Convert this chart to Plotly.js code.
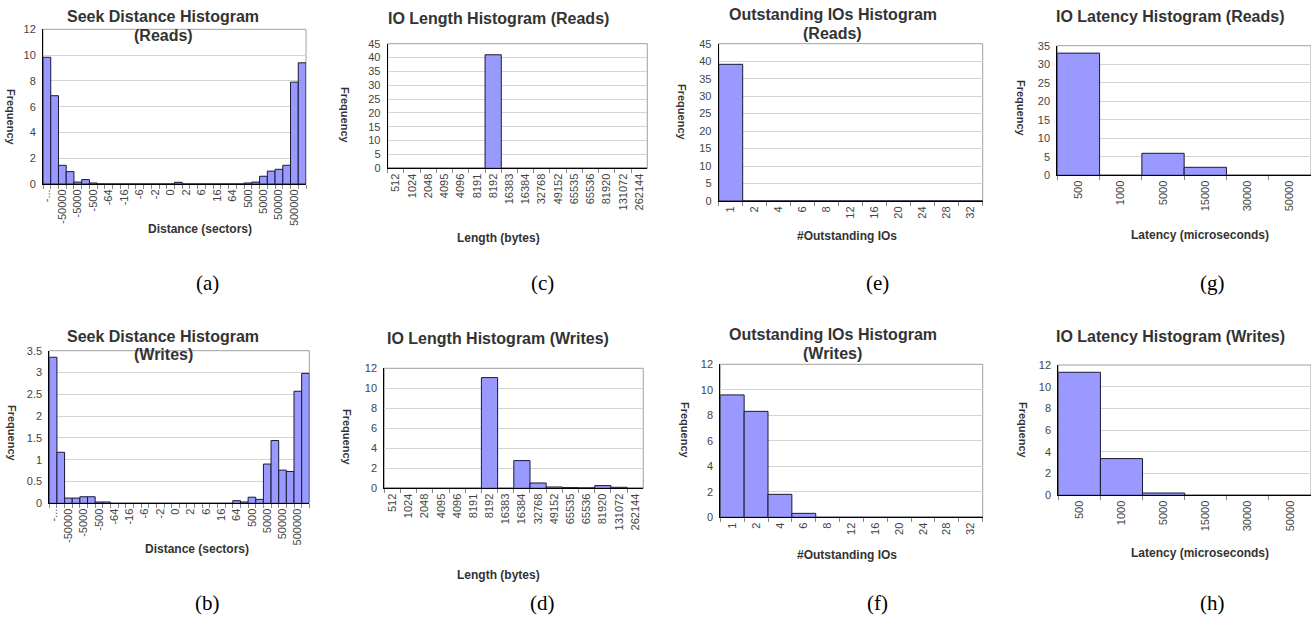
<!DOCTYPE html>
<html>
<head>
<meta charset="utf-8">
<script src="https://cdn.plot.ly/plotly-3.0.1.min.js"></script>
<style>
html,body{margin:0;padding:0;background:#fff;}
#chart{width:1311px;height:619px;}
</style>
</head>
<body>
<div id="chart"></div>
<script>
// ---------- data ----------
const seekBins = ["-...", "-100000", "-50000", "-10000", "-5000", "-1000", "-500", "-128", "-64", "-32", "-16", "-8", "-6", "-4", "-2", "-1", "0", "1", "2", "4", "6", "8", "16", "32", "64", "128", "500", "1000", "5000", "10000", "50000", "100000", "500000", ">500000"];
const seekReads = [9.83, 6.85, 1.45, 0.96, 0.15, 0.34, 0.08, 0, 0, 0, 0, 0, 0, 0, 0, 0, 0, 0.13, 0, 0, 0, 0, 0, 0, 0, 0, 0.08, 0.15, 0.6, 1.0, 1.14, 1.45, 7.9, 9.4];
const seekWrites = [3.35, 1.17, 0.12, 0.12, 0.15, 0.15, 0.03, 0.03, 0, 0, 0, 0, 0, 0, 0, 0, 0, 0, 0, 0, 0, 0, 0, 0, 0.06, 0.03, 0.14, 0.09, 0.9, 1.44, 0.76, 0.73, 2.57, 2.98];

const ioLenBins = ["512", "1024", "2048", "4095", "4096", "8191", "8192", "16383", "16384", "32768", "49152", "65535", "65536", "81920", "131072", "262144"];
const ioLenReads = [0, 0, 0, 0, 0, 0, 41, 0, 0, 0, 0, 0, 0, 0, 0, 0];
const ioLenWrites = [0, 0, 0, 0, 0, 0, 11.07, 0, 2.77, 0.53, 0.13, 0.07, 0.05, 0.27, 0.1, 0];

const oioBins = ["1", "2", "4", "6", "8", "12", "16", "20", "24", "28", "32"];
const oioReads = [39.1, 0, 0, 0, 0, 0, 0, 0, 0, 0, 0];
const oioWrites = [9.6, 8.31, 1.8, 0.31, 0, 0, 0, 0, 0, 0, 0];

const latBins = ["500", "1000", "5000", "15000", "30000", "50000"];
const latReads = [33.0, 0, 5.94, 2.16, 0, 0];
const latWrites = [11.33, 3.38, 0.21, 0, 0, 0];

// ---------- layout helpers ----------
const W = 1311, H = 619;
const FONT = "Liberation Sans, Arial, sans-serif";
const px = v => v / W;
const py = v => 1 - v / H;

const panels = [
  {bins: seekBins, vals: seekReads, every: 2, x: [43, 306], y: [29.3, 184], ymax: 12, dt: 2,
   title: ["Seek Distance Histogram", "(Reads)"], tx: 163, ty: [16, 35],
   xt: "Distance (sectors)", xtx: 200, xty: 229, ytx: 11, yty: 117, lab: "(a)", lx: 208, ly: 283},
  {bins: seekBins, vals: seekWrites, every: 2, x: [49.3, 309.3], y: [350.7, 503.3], ymax: 3.5, dt: 0.5,
   title: ["Seek Distance Histogram", "(Writes)"], tx: 163, ty: [336, 354],
   xt: "Distance (sectors)", xtx: 197, xty: 549, ytx: 12, yty: 433, lab: "(b)", lx: 208, ly: 603},
  {bins: ioLenBins, vals: ioLenReads, every: 1, x: [387.7, 647.3], y: [43.7, 168.3], ymax: 45, dt: 5,
   title: ["IO Length Histogram (Reads)"], tx: 498, ty: [18],
   xt: "Length (bytes)", xtx: 498, xty: 238, ytx: 345, yty: 115, lab: "(c)", lx: 542, ly: 283},
  {bins: ioLenBins, vals: ioLenWrites, every: 1, x: [384.3, 643.3], y: [368.3, 488.3], ymax: 12, dt: 2,
   title: ["IO Length Histogram (Writes)"], tx: 498, ty: [338],
   xt: "Length (bytes)", xtx: 498, xty: 575, ytx: 347, yty: 437, lab: "(d)", lx: 542, ly: 603},
  {bins: oioBins, vals: oioReads, every: 1, x: [718.7, 982.7], y: [43.7, 201], ymax: 45, dt: 5,
   title: ["Outstanding IOs Histogram", "(Reads)"], tx: 833, ty: [14, 33],
   xt: "#Outstanding IOs", xtx: 847, xty: 236, ytx: 682, yty: 112, lab: "(e)", lx: 878, ly: 283},
  {bins: oioBins, vals: oioWrites, every: 1, x: [720.3, 982.7], y: [364.3, 517.3], ymax: 12, dt: 2,
   title: ["Outstanding IOs Histogram", "(Writes)"], tx: 833, ty: [334, 353],
   xt: "#Outstanding IOs", xtx: 847, xty: 555, ytx: 685, yty: 430, lab: "(f)", lx: 878, ly: 603},
  {bins: latBins, vals: latReads, every: 1, x: [1057.3, 1311], y: [45.7, 175.3], ymax: 35, dt: 5,
   title: ["IO Latency Histogram (Reads)"], tx: 1170, ty: [17],
   xt: "Latency (microseconds)", xtx: 1200, xty: 235, ytx: 1021, yty: 108, lab: "(g)", lx: 1212, ly: 283},
  {bins: latBins, vals: latWrites, every: 1, x: [1058.3, 1311], y: [365, 495.3], ymax: 12, dt: 2,
   title: ["IO Latency Histogram (Writes)"], tx: 1170, ty: [336],
   xt: "Latency (microseconds)", xtx: 1200, xty: 553, ytx: 1023, yty: 430, lab: "(h)", lx: 1212, ly: 603}
];

const traces = [];
const layout = {
  width: W, height: H,
  margin: {l: 0, r: 0, t: 0, b: 0},
  paper_bgcolor: "#ffffff", plot_bgcolor: "#ffffff",
  showlegend: false, bargap: 0,
  font: {family: FONT, size: 11, color: "#444"},
  annotations: [], shapes: []
};

panels.forEach((p, i) => {
  const n = i + 1;
  const xa = n === 1 ? "xaxis" : "xaxis" + n;
  const ya = n === 1 ? "yaxis" : "yaxis" + n;
  const xr = n === 1 ? "x" : "x" + n;
  const yr = n === 1 ? "y" : "y" + n;
  traces.push({
    type: "bar", x: p.bins, y: p.vals, xaxis: xr, yaxis: yr,
    marker: {color: "#9999FF", line: {color: "#1a1a33", width: 1}},
    hoverinfo: "x+y"
  });
  layout[xa] = {
    type: "category", domain: [px(p.x[0]), px(p.x[1])], anchor: yr,
    tickmode: "array", tickvals: p.bins,
    ticktext: p.bins.map((b, k) => (k % p.every === 0 ? b : "")),
    tickangle: -90, tickson: "boundaries", ticks: "outside", ticklen: 4,
    tickcolor: "#888", tickfont: {family: FONT, size: 11, color: "#444"},
    showgrid: false, showline: true, linecolor: "#000", linewidth: 1,
    zeroline: false, fixedrange: true
  };
  layout[ya] = {
    domain: [py(p.y[1]), py(p.y[0])], anchor: xr,
    range: [0, p.ymax], dtick: p.dt, tick0: 0,
    ticks: "outside", ticklen: 4, tickcolor: "#fff",
    tickfont: {family: FONT, size: 11, color: "#444"},
    showgrid: true, gridcolor: "#d4d4d4", gridwidth: 1,
    showline: true, linecolor: "#000", linewidth: 1,
    zeroline: false, fixedrange: true
  };
  layout.shapes.push({
    type: "rect", xref: xr + " domain", yref: yr + " domain",
    x0: 0, x1: 1, y0: 0, y1: 1, layer: "below",
    line: {color: "#a0a0a0", width: 1}, fillcolor: "rgba(0,0,0,0)"
  });
  p.title.forEach((t, k) => {
    layout.annotations.push({
      text: "<b>" + t + "</b>", xref: "paper", yref: "paper",
      x: px(p.tx), y: py(p.ty[k]), xanchor: "center", yanchor: "middle",
      showarrow: false, font: {family: FONT, size: 16, color: "#333"}
    });
  });
  layout.annotations.push({
    text: "<b>" + p.xt + "</b>", xref: "paper", yref: "paper",
    x: px(p.xtx), y: py(p.xty), xanchor: "center", yanchor: "middle",
    showarrow: false, font: {family: FONT, size: 12, color: "#333"}
  });
  layout.annotations.push({
    text: "<b>Frequency</b>", xref: "paper", yref: "paper", textangle: 90,
    x: px(p.ytx), y: py(p.yty), xanchor: "center", yanchor: "middle",
    showarrow: false, font: {family: FONT, size: 11, color: "#333"}
  });
  layout.annotations.push({
    text: p.lab, xref: "paper", yref: "paper",
    x: px(p.lx), y: py(p.ly), xanchor: "center", yanchor: "middle",
    showarrow: false, font: {family: "Liberation Serif, Times New Roman, serif", size: 21, color: "#000"}
  });
});

Plotly.newPlot("chart", traces, layout, {displayModeBar: false, staticPlot: true});
</script>
</body>
</html>
